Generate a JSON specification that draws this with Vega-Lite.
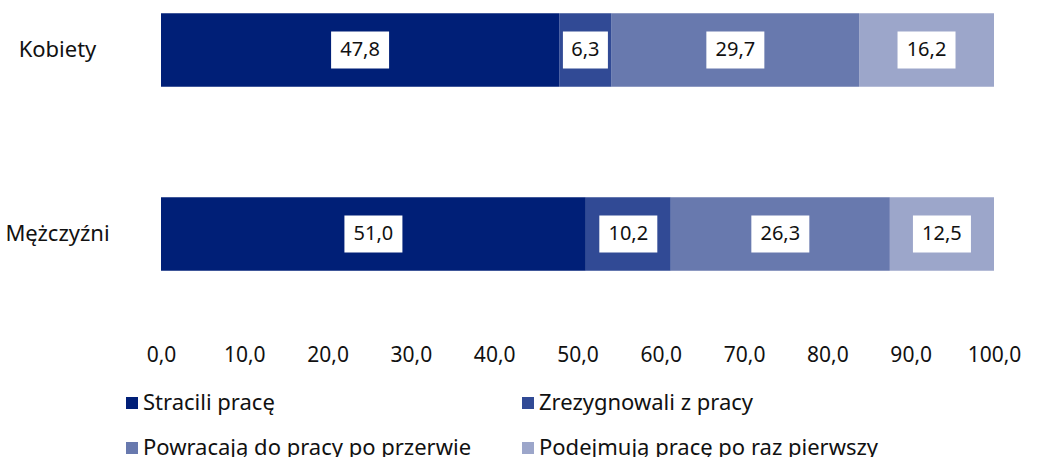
{
  "$schema": "https://vega.github.io/schema/vega-lite/v6.json",
  "width": 833,
  "height": 284,
  "autosize": {"type": "none"},
  "padding": {"left": 161, "top": 0, "right": 47, "bottom": 173},
  "background": "white",
  "data": {
    "values": [
      {"grupa": "Kobiety", "kat": "Stracili pracę", "o": 1, "value": 47.8},
      {"grupa": "Kobiety", "kat": "Zrezygnowali z pracy", "o": 2, "value": 6.3},
      {"grupa": "Kobiety", "kat": "Powracają do pracy po przerwie", "o": 3, "value": 29.7},
      {"grupa": "Kobiety", "kat": "Podejmują pracę po raz pierwszy", "o": 4, "value": 16.2},
      {"grupa": "Mężczyźni", "kat": "Stracili pracę", "o": 1, "value": 51.0},
      {"grupa": "Mężczyźni", "kat": "Zrezygnowali z pracy", "o": 2, "value": 10.2},
      {"grupa": "Mężczyźni", "kat": "Powracają do pracy po przerwie", "o": 3, "value": 26.3},
      {"grupa": "Mężczyźni", "kat": "Podejmują pracę po raz pierwszy", "o": 4, "value": 12.5}
    ]
  },
  "encoding": {
    "y": {
      "field": "grupa",
      "type": "nominal",
      "sort": ["Kobiety", "Mężczyźni"],
      "scale": {"paddingInner": 0.6, "paddingOuter": 0.0725},
      "axis": {
        "title": null,
        "domain": false,
        "ticks": false,
        "labelAlign": "center",
        "labelBaseline": "middle",
        "labelPadding": 104,
        "labelFontSize": 22,
        "labelColor": "#111111",
        "labelFont": "Noto Sans"
      }
    },
    "order": {"field": "o", "type": "quantitative"}
  },
  "layer": [
    {
      "mark": {"type": "bar"},
      "encoding": {
        "x": {
          "field": "value",
          "type": "quantitative",
          "stack": "zero",
          "scale": {"domain": [0, 100], "nice": false, "zero": true},
          "axis": {
            "title": null,
            "values": [0, 10, 20, 30, 40, 50, 60, 70, 80, 90, 100],
            "format": ".1f",
            "domain": false,
            "ticks": false,
            "grid": false,
            "labelPadding": 60,
            "labelFontSize": 21,
            "labelColor": "#111111",
            "labelFont": "Noto Sans",
            "labelFlush": false,
            "labelOverlap": false
          }
        },
        "color": {
          "field": "kat",
          "type": "nominal",
          "sort": ["Stracili pracę", "Zrezygnowali z pracy", "Powracają do pracy po przerwie", "Podejmują pracę po raz pierwszy"],
          "scale": {
            "domain": ["Stracili pracę", "Zrezygnowali z pracy", "Powracają do pracy po przerwie", "Podejmują pracę po raz pierwszy"],
            "range": ["#001F77", "#314A95", "#6879AE", "#9CA6CA"]
          },
          "legend": {
            "title": null,
            "orient": "none",
            "legendX": -40,
            "legendY": 392,
            "columns": 2,
            "direction": "horizontal",
            "symbolType": "square",
            "symbolSize": 144,
            "symbolStrokeWidth": 0,
            "symbolOpacity": 1,
            "labelOffset": 0,
            "labelFontSize": 22,
            "labelFont": "Noto Sans",
            "labelColor": "#111111",
            "labelLimit": 0,
            "labelExpr": "datum.label == 'Podejmują pracę po raz pierwszy' ? '\u00a0' + datum.label : datum.label",
            "columnPadding": 45,
            "rowPadding": 23,
            "padding": 0
          }
        }
      }
    },
    {
      "mark": {"type": "point", "filled": true, "fill": "white", "opacity": 1, "strokeWidth": 0},
      "encoding": {
        "x": {"field": "value", "type": "quantitative", "stack": "zero", "bandPosition": 0.5},
        "shape": {
          "condition": {"test": "datum.value < 10", "value": "M-1,-0.822H1V0.822H-1Z"},
          "value": "M-1,-0.638H1V0.638H-1Z"
        },
        "size": {
          "condition": {"test": "datum.value < 10", "value": 2025},
          "value": 3364
        }
      }
    },
    {
      "mark": {"type": "text", "fontSize": 20, "font": "Noto Sans", "color": "#111111", "align": "center", "baseline": "middle"},
      "encoding": {
        "x": {"field": "value", "type": "quantitative", "stack": "zero", "bandPosition": 0.5},
        "text": {"field": "value", "type": "quantitative", "format": ".1f"}
      }
    }
  ],
  "config": {
    "locale": {"number": {"decimal": ",", "thousands": " ", "grouping": [3], "currency": ["", " zł"]}},
    "view": {"stroke": null}
  }
}
